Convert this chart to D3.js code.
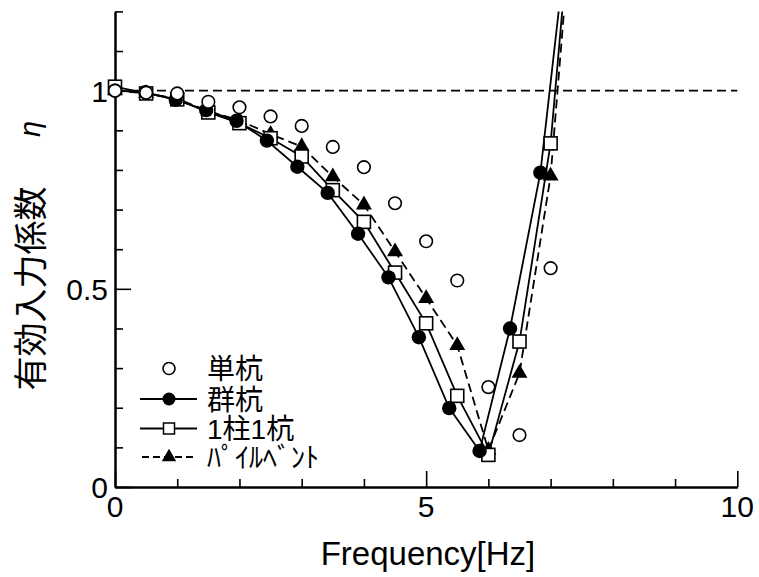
<!DOCTYPE html>
<html>
<head>
<meta charset="utf-8">
<script src="https://cdn.jsdelivr.net/npm/d3@7/dist/d3.min.js"></script>
<style>
  html, body { margin: 0; padding: 0; background: #fff; }
  svg { display: block; }
</style>
</head>
<body>
<svg id="chart" width="759" height="577"></svg>
<script>
// ---------------- data ----------------
const freqHalf = [0, 0.5, 1, 1.5, 2, 2.5, 3, 3.5, 4, 4.5, 5, 5.5, 6, 6.5, 7];
const singlePile = [1.0, 0.995, 0.993, 0.972, 0.958, 0.935, 0.911, 0.858, 0.807, 0.716, 0.620, 0.521, 0.252, 0.131, 0.552];

const freqGroup = [0, 0.488, 0.977, 1.465, 1.953, 2.441, 2.930, 3.418, 3.906, 4.395, 4.883, 5.371, 5.859, 6.348, 6.836, 7.324];
const groupPile = [1.0, 0.996, 0.977, 0.951, 0.924, 0.874, 0.808, 0.742, 0.639, 0.529, 0.378, 0.199, 0.091, 0.400, 0.793, 1.47];

const freqExt = [0, 0.5, 1, 1.5, 2, 2.5, 3, 3.5, 4, 4.5, 5, 5.5, 6, 6.5, 7, 7.5];
const oneColOnePile = [1.01, 0.993, 0.978, 0.945, 0.918, 0.880, 0.834, 0.749, 0.669, 0.541, 0.413, 0.230, 0.081, 0.367, 0.867, 1.76];
const pileBent = [1.0, 0.993, 0.980, 0.948, 0.925, 0.890, 0.859, 0.783, 0.712, 0.594, 0.476, 0.357, 0.093, 0.287, 0.785, 1.75];

const refLevel = 1.0;
const xMajorTicks = [0, 5, 10];
const xMinorTicks = [1, 2, 3, 4, 6, 7, 8, 9];
const yMajorTicks = [0, 0.5, 1];
const yMinorTicks = [0.1, 0.2, 0.3, 0.4, 0.6, 0.7, 0.8, 0.9, 1.1, 1.2];
const xTickLabels = ["0", "5", "10"];
const yTickLabels = ["0", "0.5", "1"];
const legendLabels = ["単杭", "群杭", "1柱1杭", "ﾊﾟｲﾙﾍﾞﾝﾄ"];
const xTitle = "Frequency[Hz]";
const yTitle = "有効入力係数";
const yTitleSymbol = "η";

// ---------------- layout ----------------
const svg = d3.select("#chart");
const X0 = 115, X1 = 737.3, Y0 = 487, Y1 = 11.4;
const x = d3.scaleLinear().domain([0, 10]).range([X0, X1]);
const y = d3.scaleLinear().domain([0, 1.2]).range([Y0, Y1]);
const latin = "'Liberation Sans', Arial, sans-serif";
const cjk = "'Liberation Sans', 'Noto Sans CJK JP', sans-serif";

svg.append("defs").append("clipPath").attr("id", "plotclip")
  .append("rect").attr("x", X0).attr("y", Y1).attr("width", X1 - X0 + 40).attr("height", Y0 - Y1);

// reference dashed line
svg.append("line")
  .attr("x1", x(0)).attr("x2", x(10)).attr("y1", y(refLevel)).attr("y2", y(refLevel))
  .attr("stroke", "#000").attr("stroke-width", 1.7).attr("stroke-dasharray", "9,5");

// axes
const axisStyle = g => {
  g.selectAll(".domain").attr("stroke", "#000").attr("stroke-width", 2);
  g.selectAll(".tick line").attr("stroke", "#000").attr("stroke-width", 1.6);
  g.selectAll(".tick text").remove();
};
svg.append("g").attr("transform", `translate(0,${Y0})`)
  .call(d3.axisBottom(x).tickValues(xMinorTicks).tickSizeInner(-8).tickSizeOuter(0))
  .call(axisStyle);
svg.append("g").attr("transform", `translate(0,${Y0})`)
  .call(d3.axisBottom(x).tickValues(xMajorTicks).tickSizeInner(-16).tickSizeOuter(0))
  .call(axisStyle);
svg.append("g").attr("transform", `translate(${X0},0)`)
  .call(d3.axisLeft(y).tickValues(yMinorTicks).tickSizeInner(-8).tickSizeOuter(0))
  .call(axisStyle);
svg.append("g").attr("transform", `translate(${X0},0)`)
  .call(d3.axisLeft(y).tickValues(yMajorTicks).tickSizeInner(-16).tickSizeOuter(0))
  .call(axisStyle);

// tick labels
svg.append("g").selectAll("text").data(xMajorTicks).join("text")
  .attr("x", d => x(d)).attr("y", Y0 + 30)
  .attr("text-anchor", "middle").attr("font-family", latin).attr("font-size", 30)
  .text((d, i) => xTickLabels[i]);
svg.append("g").selectAll("text").data(yMajorTicks).join("text")
  .attr("x", X0 - 7).attr("y", d => y(d) + 11)
  .attr("text-anchor", "end").attr("font-family", latin).attr("font-size", 30)
  .text((d, i) => yTickLabels[i]);

// axis titles
svg.append("text").attr("x", 428).attr("y", 565)
  .attr("text-anchor", "middle").attr("font-family", latin).attr("font-size", 33)
  .text(xTitle);
svg.append("text")
  .attr("transform", `translate(28,288.5) rotate(-90)`)
  .attr("text-anchor", "middle").attr("dominant-baseline", "central")
  .attr("font-family", "'Noto Sans CJK JP', sans-serif").attr("font-size", 34)
  .text(yTitle);
svg.append("text")
  .attr("transform", `translate(30,129) rotate(-90)`)
  .attr("text-anchor", "middle").attr("dominant-baseline", "central")
  .attr("font-family", latin).attr("font-size", 29)
  .attr("font-style", "italic")
  .text(yTitleSymbol);

// lines
const plot = svg.append("g").attr("clip-path", "url(#plotclip)");
const lineGen = (xs) => d3.line().x((d, i) => x(xs[i])).y(d => y(d));
plot.append("path").datum(groupPile).attr("d", lineGen(freqGroup))
  .attr("fill", "none").attr("stroke", "#000").attr("stroke-width", 1.8);
plot.append("path").datum(oneColOnePile).attr("d", lineGen(freqExt))
  .attr("fill", "none").attr("stroke", "#000").attr("stroke-width", 1.8);
plot.append("path").datum(pileBent).attr("d", lineGen(freqExt))
  .attr("fill", "none").attr("stroke", "#000").attr("stroke-width", 1.8).attr("stroke-dasharray", "9,5");

// markers
const triSym = d3.symbol().type(d3.symbolTriangle).size(110);
const pts = (xs, ys) => ys.map((v, i) => [xs[i], v]).filter(d => d[1] <= 1.2);

const mk = svg.append("g");
mk.selectAll(".tri").data(pts(freqExt, pileBent)).join("path")
  .attr("transform", d => `translate(${x(d[0])},${y(d[1])})`)
  .attr("d", triSym).attr("fill", "#000");
mk.selectAll(".sq").data(pts(freqExt, oneColOnePile)).join("rect")
  .attr("x", d => x(d[0]) - 6.5).attr("y", d => y(d[1]) - 6.5)
  .attr("width", 13).attr("height", 13)
  .attr("fill", "#fff").attr("stroke", "#000").attr("stroke-width", 1.6);
mk.selectAll(".fc").data(pts(freqGroup, groupPile)).join("circle")
  .attr("cx", d => x(d[0])).attr("cy", d => y(d[1])).attr("r", 7.2)
  .attr("fill", "#000");
mk.selectAll(".oc").data(pts(freqHalf, singlePile)).join("circle")
  .attr("cx", d => x(d[0])).attr("cy", d => y(d[1])).attr("r", 6.3)
  .attr("fill", "#fff").attr("stroke", "#000").attr("stroke-width", 1.6);

// legend
const legRows = [368.5, 399, 428.5, 457];
const lg = svg.append("g");
const lx0 = 140, lx1 = 197, lcx = 169, ltx = 207;
// row 0: open circle only
lg.append("circle").attr("cx", lcx).attr("cy", legRows[0]).attr("r", 6)
  .attr("fill", "#fff").attr("stroke", "#000").attr("stroke-width", 1.6);
// row 1: line + filled circle
lg.append("line").attr("x1", lx0).attr("x2", lx1).attr("y1", legRows[1]).attr("y2", legRows[1])
  .attr("stroke", "#000").attr("stroke-width", 1.8);
lg.append("circle").attr("cx", lcx).attr("cy", legRows[1]).attr("r", 6.5).attr("fill", "#000");
// row 2: line + square
lg.append("line").attr("x1", lx0).attr("x2", lx1).attr("y1", legRows[2]).attr("y2", legRows[2])
  .attr("stroke", "#000").attr("stroke-width", 1.8);
lg.append("rect").attr("x", lcx - 5.5).attr("y", legRows[2] - 5.5).attr("width", 11).attr("height", 11)
  .attr("fill", "#fff").attr("stroke", "#000").attr("stroke-width", 1.5);
// row 3: dashed line + triangle
lg.append("line").attr("x1", lx0 + 2).attr("x2", lx1).attr("y1", legRows[3]).attr("y2", legRows[3])
  .attr("stroke", "#000").attr("stroke-width", 1.8).attr("stroke-dasharray", "7,4");
lg.append("path").attr("transform", `translate(${lcx},${legRows[3]})`)
  .attr("d", d3.symbol().type(d3.symbolTriangle).size(90)).attr("fill", "#000");

lg.selectAll("text").data(legendLabels).join("text")
  .attr("x", ltx).attr("y", (d, i) => legRows[i] + 1)
  .attr("dominant-baseline", "central")
  .attr("font-family", cjk).attr("font-size", 28)
  .text(d => d);
</script>
</body>
</html>
